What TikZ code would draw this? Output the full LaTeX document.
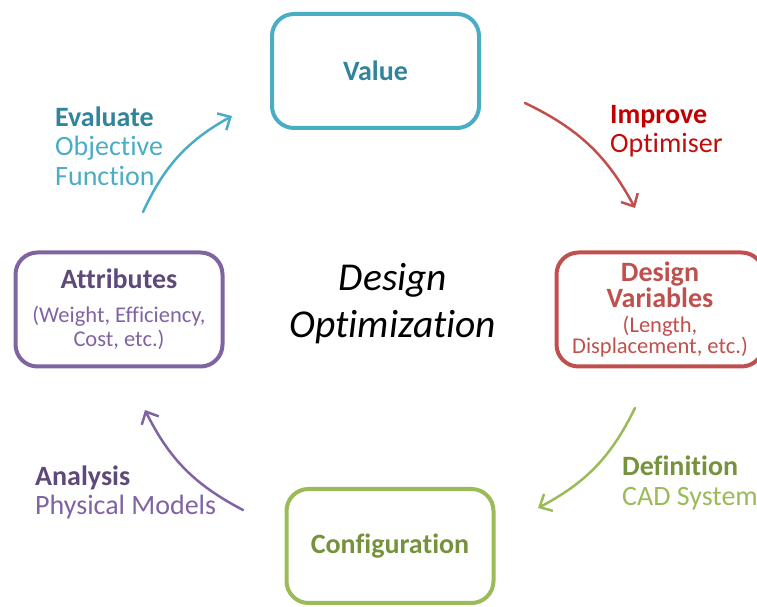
\documentclass[tikz,border=0pt]{standalone}
\usepackage{fontspec}
\setmainfont{Carlito}[Ligatures=NoCommon]
\usetikzlibrary{arrows.meta}

\definecolor{valblue}{HTML}{4BACC6}
\definecolor{valdark}{HTML}{31849B}
\definecolor{varred}{HTML}{C0504D}
\definecolor{impred}{HTML}{C00000}
\definecolor{cfggreen}{HTML}{9BBB59}
\definecolor{cfgdark}{HTML}{76923C}
\definecolor{attpurple}{HTML}{8064A2}
\definecolor{attdark}{HTML}{5F497A}

\begin{document}
\begin{tikzpicture}[x=1pt,y=1pt,
    box/.style={draw,line width=4pt,rounded corners=22pt,minimum width=207pt,
        minimum height=114pt,align=center,inner sep=0pt,
        font=\fontsize{28}{29}\selectfont\bfseries},
    arr/.style={line width=2.5pt,line cap=round,
        -{Straight Barb[length=10pt,width=19pt,line width=2.5pt]}},
    lab/.style={anchor=west,inner sep=0pt,align=left,
        font=\fontsize{28}{29.5}\selectfont}]
    \useasboundingbox (0,0) rectangle (757,607);
    \clip (0,0) rectangle (757,607);

    \node[box,draw=valblue,text=valdark] (value) at (375.5,536) {Value};
    \node[box,draw=attpurple,text=attdark] (attr) at (119,297.5)
        {Attributes\\[5pt]{\mdseries\fontsize{22.5}{24}\selectfont\color{attpurple}(Weight, Efficiency,}\\[-5pt]
        {\mdseries\fontsize{22.5}{24}\selectfont\color{attpurple}Cost, etc.)}};
    \node[box,draw=varred,text=varred] (vars) at (660,297.5)
        {Design\\[-3pt]Variables\\[-4pt]{\mdseries\fontsize{22.5}{24}\selectfont(Length,}\\[-8pt]
        {\mdseries\fontsize{22.5}{24}\selectfont Displacement, etc.)}};
    \node[box,draw=cfggreen,text=cfgdark] (config) at (390,61) {Configuration};

    \node[align=center,font=\fontsize{39.5}{47}\selectfont\itshape] (title) at (393,303.5)
        {Design\\Optimization};

    % arrows round the loop
    \coordinate (evalS) at (143,395);
    \coordinate (evalE) at (232,491);
    \coordinate (impS) at (525,504);
    \coordinate (impE) at (635,399);
    \coordinate (defS) at (635,199);
    \coordinate (defE) at (538,99);
    \coordinate (anaS) at (243,97);
    \coordinate (anaE) at (145,197);

    \draw[arr,valblue] (evalS) to[bend left=18] (evalE);
    \draw[arr,varred] (impS) to[bend left=18] (impE);
    \draw[arr,cfggreen] (defS) to[bend left=18] (defE);
    \draw[arr,attpurple] (anaS) to[bend left=18] (anaE);

    \node[lab] (evallab) at (55,461) {\textcolor{valdark}{\bfseries Evaluate}\\
        \textcolor{valblue}{Objective}\\\textcolor{valblue}{Function}};
    \node[lab] (implab) at (610,476) {\textcolor{impred}{\bfseries Improve}\\
        \textcolor{impred!85!varred}{Optimiser}};
    \node[lab] (deflab) at (622,124) {\textcolor{cfgdark}{\bfseries Definition}\\
        \textcolor{cfggreen}{CAD System}};
    \node[lab] (analab) at (35,114.5) {\textcolor{attdark}{\bfseries Analysis}\\
        \textcolor{attpurple}{Physical Models}};
\end{tikzpicture}
\end{document}
